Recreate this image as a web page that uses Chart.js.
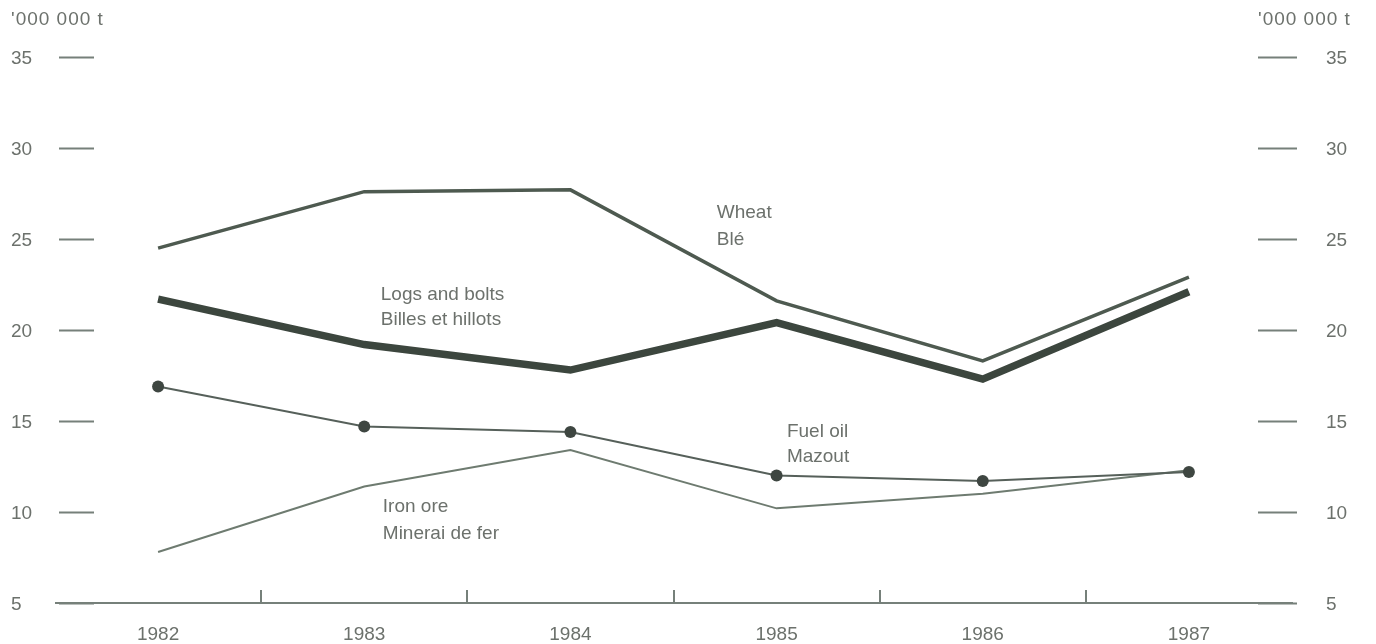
<!DOCTYPE html>
<html>
<head>
<meta charset="utf-8">
<script src="https://cdn.jsdelivr.net/npm/chart.js@4/dist/chart.umd.min.js"></script>
<style>
  html, body { margin: 0; padding: 0; background: #ffffff; }
  #wrap { width: 1376px; height: 644px; }
</style>
</head>
<body>
<div id="wrap"><canvas id="tonnage"></canvas></div>
<script>
// Values ('000 000 t)
const years = ['1982', '1983', '1984', '1985', '1986', '1987'];
const wheat = [24.5, 27.6, 27.7, 21.6, 18.3, 22.9];
const logsAndBolts = [21.7, 19.2, 17.8, 20.4, 17.3, 22.1];
const fuelOil = [16.9, 14.7, 14.4, 12.0, 11.7, 12.2];
const ironOre = [7.8, 11.4, 13.4, 10.2, 11.0, 12.3];
const yTicks = [5, 10, 15, 20, 25, 30, 35];
const unitText = "'000 000 t";

// series captions, placed in data units (category index, value)
const captions = [
    { lines: ['Wheat', 'Blé'], at: 2.71, values: [26.45, 24.97] },
    { lines: ['Logs and bolts', 'Billes et hillots'], at: 1.08, values: [21.95, 20.58] },
    { lines: ['Fuel oil', 'Mazout'], at: 3.05, values: [14.43, 13.06] },
    { lines: ['Iron ore', 'Minerai de fer'], at: 1.09, values: [10.27, 8.79] }
];

const FONT = '"Liberation Sans", Arial, Helvetica, sans-serif';
const textColor = '#6c716c';
const tickColor = '#76807a';

// axis line, divider ticks, year labels, y tick marks both sides, captions
const decor = {
    id: 'decor',
    beforeDatasetsDraw(chart) {
        const { ctx, chartArea, scales: { x, y } } = chart;
        const base = y.getPixelForValue(5);
        ctx.save();
        ctx.strokeStyle = tickColor;
        ctx.lineWidth = 2;

        ctx.beginPath();
        ctx.moveTo(chartArea.left, base);
        ctx.lineTo(chartArea.right + 1, base);
        ctx.stroke();

        for (let i = 0; i < years.length - 1; i++) {
            const px = Math.round((x.getPixelForValue(i) + x.getPixelForValue(i + 1)) / 2);
            ctx.beginPath();
            ctx.moveTo(px, base);
            ctx.lineTo(px, base - 13);
            ctx.stroke();
        }

        ctx.font = '19px ' + FONT;
        ctx.fillStyle = textColor;
        ctx.textBaseline = 'middle';

        ctx.textAlign = 'center';
        years.forEach((yr, i) => {
            ctx.fillText(yr, x.getPixelForValue(i), base + 32);
        });

        ctx.textAlign = 'left';
        yTicks.forEach(v => {
            const py = Math.round(y.getPixelForValue(v)) + 0.5;
            ctx.beginPath();
            ctx.moveTo(chartArea.left + 4, py);
            ctx.lineTo(chartArea.left + 39, py);
            ctx.moveTo(chartArea.right - 34, py);
            ctx.lineTo(chartArea.right + 5, py);
            ctx.stroke();
            ctx.fillText(String(v), 11, py + 1);
            ctx.fillText(String(v), chartArea.right + 34, py + 1);
        });

        captions.forEach(c => {
            const px = x.getPixelForValue(c.at);
            c.lines.forEach((t, k) => {
                ctx.fillText(t, px, y.getPixelForValue(c.values[k]));
            });
        });

        ctx.letterSpacing = '1px';
        ctx.fillText(unitText, 11, 20);
        ctx.fillText(unitText, 1258, 20);
        ctx.restore();
    }
};

new Chart(document.getElementById('tonnage'), {
    type: 'line',
    data: {
        labels: years,
        datasets: [
            {
                label: 'Wheat',
                data: wheat,
                borderColor: '#4e5a50',
                borderWidth: 3.5,
                pointRadius: 0,
                tension: 0
            },
            {
                label: 'Logs and bolts',
                data: logsAndBolts,
                borderColor: '#3c463e',
                borderWidth: 7.5,
                pointRadius: 0,
                tension: 0
            },
            {
                label: 'Fuel oil',
                data: fuelOil,
                borderColor: '#56605a',
                borderWidth: 2,
                pointRadius: 6,
                pointBackgroundColor: '#3e4641',
                pointBorderColor: '#3e4641',
                pointBorderWidth: 0,
                tension: 0
            },
            {
                label: 'Iron ore',
                data: ironOre,
                borderColor: '#6e7b70',
                borderWidth: 2,
                pointRadius: 0,
                tension: 0
            }
        ]
    },
    options: {
        responsive: true,
        maintainAspectRatio: false,
        animation: false,
        layout: { padding: { left: 55, right: 84, top: 57, bottom: 41 } },
        plugins: {
            legend: { display: false },
            tooltip: { enabled: false }
        },
        scales: {
            x: {
                display: false,
                offset: true
            },
            y: {
                display: false,
                min: 5,
                max: 35
            }
        }
    },
    plugins: [decor]
});
</script>
</body>
</html>
